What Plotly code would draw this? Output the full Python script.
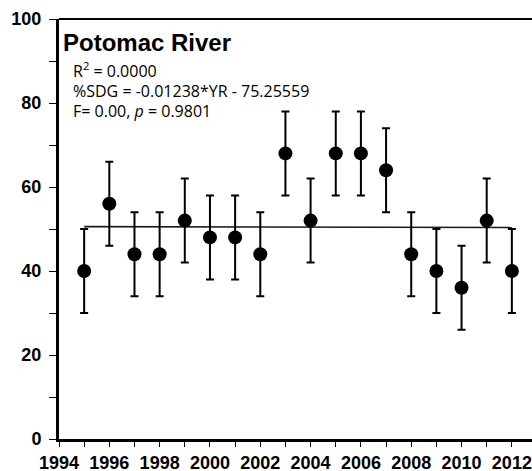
import plotly.graph_objects as go

years = [1995, 1996, 1997, 1998, 1999, 2000, 2001, 2002, 2003, 2004,
         2005, 2006, 2007, 2008, 2009, 2010, 2011, 2012]
sdg = [40, 56, 44, 44, 52, 48, 48, 44, 68, 52,
       68, 68, 64, 44, 40, 36, 52, 40]
err = [10] * 18
slope = -0.01238
intercept = 75.25559
x_tickvals = [1994, 1996, 1998, 2000, 2002, 2004, 2006, 2008, 2010, 2012]
y_tickvals = [0, 20, 40, 60, 80, 100]

trend_x = [years[0], years[-1]]
trend_y = [slope * x + intercept for x in trend_x]

fig = go.Figure()
fig.add_trace(go.Scatter(
    x=trend_x, y=trend_y, mode="lines",
    line=dict(color="#1a1a1a", width=1.6), showlegend=False, hoverinfo="skip"))
fig.add_trace(go.Scatter(
    x=years, y=sdg, mode="markers",
    marker=dict(color="black", size=14),
    error_y=dict(type="data", array=err, visible=True, color="black",
                 thickness=2, width=4),
    showlegend=False))

fig.update_layout(
    template="none",
    width=532, height=471,
    margin=dict(l=59, r=0, t=19, b=32, autoexpand=False),
    plot_bgcolor="white", paper_bgcolor="white",
    font=dict(family="Arial, Liberation Sans", color="black"),
    xaxis=dict(
        automargin=False,
        range=[1994, 2012.8], tickvals=x_tickvals, ticktext=[str(v) for v in x_tickvals],
        showgrid=False, zeroline=False, showline=True, linecolor="black", linewidth=3,
        ticks="outside", ticklen=5, tickwidth=1, tickcolor="black",
        minor=dict(dtick=1, tick0=1994, ticks="outside", ticklen=5, tickwidth=1, tickcolor="black",
                   showgrid=False),
        tickfont=dict(size=18, family="Arial, Liberation Sans", color="black", weight="bold"),
        ticklabelstandoff=0,
    ),
    yaxis=dict(
        automargin=False,
        range=[0, 100], tickvals=y_tickvals,
        showgrid=False, zeroline=False, showline=True, linecolor="black", linewidth=3,
        ticks="outside", ticklen=7, tickwidth=1, tickcolor="black",
        minor=dict(dtick=10, tick0=0, ticks="outside", ticklen=7, tickwidth=1, tickcolor="black",
                   showgrid=False),
        tickfont=dict(size=18, family="Arial, Liberation Sans", color="black", weight="bold"),
        ticklabelstandoff=4,
    ),
    shapes=[dict(type="line", xref="paper", yref="paper", x0=0, x1=1, y0=1, y1=1,
                 line=dict(color="black", width=2))],
    annotations=[
        dict(xref="paper", yref="paper", x=0.004, y=0.943, xanchor="left", yanchor="middle",
             text="<b>Potomac River</b>", showarrow=False,
             font=dict(size=24, family="Arial, Liberation Sans", color="black")),
        dict(xref="paper", yref="paper", x=0.025, y=0.879, xanchor="left", yanchor="middle",
             text="R<sup>2</sup> = 0.0000", showarrow=False,
             font=dict(size=16, family="Open Sans", color="black")),
        dict(xref="paper", yref="paper", x=0.025, y=0.829, xanchor="left", yanchor="middle",
             text="%SDG = -0.01238*YR - 75.25559", showarrow=False,
             font=dict(size=16, family="Open Sans", color="black")),
        dict(xref="paper", yref="paper", x=0.025, y=0.781, xanchor="left", yanchor="middle",
             text="F= 0.00, <i>p</i> = 0.9801", showarrow=False,
             font=dict(size=16, family="Open Sans", color="black")),
    ],
)

fig.write_html("out.html", config={"displayModeBar": False},
               post_script="document.body.style.margin='0';document.body.style.overflow='hidden';")
